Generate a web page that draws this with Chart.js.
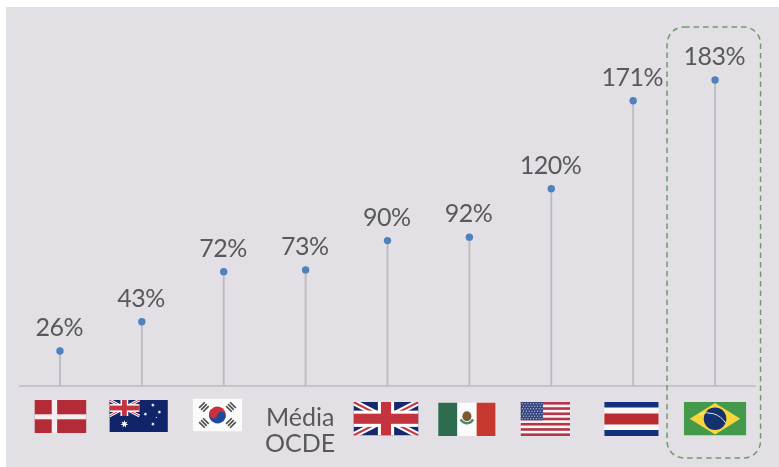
<!DOCTYPE html>
<html>
<head>
<meta charset="utf-8">
<script src="https://cdn.jsdelivr.net/npm/chart.js@4"></script>
<style>
  html, body { margin: 0; padding: 0; background: #fff; }
  #wrap { position: relative; width: 779px; height: 467px; overflow: hidden; }
  #panel { position: absolute; left: 6px; top: 7px; width: 773px; height: 460px; background: #e2e0e5; }
  canvas { position: absolute; left: 0; top: 0; }
</style>
</head>
<body>
<div id="wrap">
  <div id="panel"></div>
  <canvas id="lollipop" width="779" height="467"></canvas>
</div>
<script>
const categories = ['Dinamarca', 'Austrália', 'Coreia do Sul', 'Média OCDE', 'Reino Unido', 'México', 'Estados Unidos', 'Costa Rica', 'Brasil'];
const values = [26, 43, 72, 73, 90, 92, 120, 171, 183];
const flagKeys = ['dk', 'au', 'kr', null, 'gb', 'mx', 'us', 'cr', 'br'];
const highlighted = 'Brasil';

const TEXT = '#59585c';
const STEM = '#bcbbc0';
const DOT = '#4f81bd';
const FONT = '"Lato", "Open Sans", sans-serif';

function rect(c, col, x, y, w, h) {
    c.fillStyle = col;
    c.fillRect(x, y, w, h);
}

function star(c, x, y, r, n) {
    c.beginPath();
    for (let i = 0; i < n * 2; i++) {
        const rr = i % 2 ? r * 0.45 : r;
        const a = -Math.PI / 2 + i * Math.PI / n;
        c.lineTo(x + Math.cos(a) * rr, y + Math.sin(a) * rr);
    }
    c.closePath();
    c.fillStyle = '#fff';
    c.fill();
}

function stroke(c, col, lw, pts) {
    c.strokeStyle = col;
    c.lineWidth = lw;
    c.beginPath();
    pts.forEach(p => c.lineTo(p[0], p[1]));
    c.stroke();
}

function union(c, w, h) {
    // also used small on the australian flag
    const navy = '#15286b', red = '#c4343f';
    rect(c, navy, 0, 0, w, h);
    const s = h / 33;
    stroke(c, '#fff', 6 * s, [[0, 0], [w, h]]);
    stroke(c, '#fff', 6 * s, [[w, 0], [0, h]]);
    stroke(c, red, 2 * s, [[0, 0], [w, h]]);
    stroke(c, red, 2 * s, [[w, 0], [0, h]]);
    rect(c, '#fff', w / 2 - 8 * s, 0, 16 * s, h);
    rect(c, '#fff', 0, h / 2 - 8 * s, w, 16 * s);
    rect(c, red, w / 2 - 5 * s, 0, 10 * s, h);
    rect(c, red, 0, h / 2 - 5 * s, w, 10 * s);
}

const flags = {
    dk: { w: 52, h: 33, top: 400, dx: 0.5, draw(c, w, h) {
        rect(c, '#b42b38', 0, 0, w, h);
        rect(c, '#f4eef0', 17.3, 0, 5.4, h);
        rect(c, '#f4eef0', 0, 14.3, w, 5);
    } },
    au: { w: 58.5, h: 32, top: 400, dx: -3.2, draw(c, w, h) {
        rect(c, '#10246a', 0, 0, w, h);
        c.save();
        union(c, 30, 16);
        c.restore();
        star(c, 15, 24, 4, 7);
        star(c, 43.5, 24, 2, 7);
        star(c, 36, 14, 2, 7);
        star(c, 43.5, 5, 2, 7);
        star(c, 50, 12, 2, 7);
        star(c, 47, 17.5, 1, 5);
    } },
    kr: { w: 49.5, h: 33, top: 398.5, dx: -6.3, draw(c, w, h) {
        rect(c, '#fbfbfb', 0, 0, w, h);
        const cx = w / 2, cy = h / 2, r = 8.5;
        c.fillStyle = '#c8323f';
        c.beginPath(); c.arc(cx, cy, r, Math.PI * 1.1, Math.PI * 0.1); c.fill();
        c.fillStyle = '#1f4a9c';
        c.beginPath(); c.arc(cx, cy, r, Math.PI * 0.1, Math.PI * 1.1); c.fill();
        c.fillStyle = '#c8323f';
        c.beginPath(); c.arc(cx - 4, cy - 1, 4.3, 0, Math.PI * 2); c.fill();
        c.fillStyle = '#1f4a9c';
        c.beginPath(); c.arc(cx + 4, cy + 1, 4.3, 0, Math.PI * 2); c.fill();
        [[-13.5, -8, 1], [13.5, -8, -1], [-13.5, 8, -1], [13.5, 8, 1]].forEach(b => {
            c.save();
            c.translate(cx + b[0], cy + b[1]);
            c.rotate(b[2] * -Math.PI / 4);
            rect(c, '#4a4a4c', -4, -3.6, 8, 1.6);
            rect(c, '#4a4a4c', -4, -0.8, 8, 1.6);
            rect(c, '#4a4a4c', -4, 2, 8, 1.6);
            c.restore();
        });
    } },
    gb: { w: 65, h: 33.5, top: 402, dx: -1.5, draw(c, w, h) { union(c, w, h); } },
    mx: { w: 57.5, h: 33.5, top: 402.5, dx: -2.5, draw(c, w, h) {
        rect(c, '#fbfbfb', 0, 0, w, h);
        rect(c, '#2e6c50', 0, 0, 19, h);
        rect(c, '#c5392e', 38.5, 0, 19, h);
        c.fillStyle = '#7d5a35';
        c.beginPath(); c.ellipse(w / 2, h / 2 - 3, 4.5, 5, 0, 0, Math.PI * 2); c.fill();
        c.strokeStyle = '#4f8a63';
        c.lineWidth = 2.5;
        c.beginPath(); c.arc(w / 2, h / 2 - 3, 7, Math.PI * 0.15, Math.PI * 0.85); c.stroke();
    } },
    us: { w: 49.5, h: 34, top: 402, dx: -6, draw(c, w, h) {
        rect(c, '#fbf6f7', 0, 0, w, h);
        for (let i = 0; i < 13; i += 2) {
            rect(c, '#b63447', 0, i * h / 13, w, h / 13);
        }
        rect(c, '#33447f', 0, 0, 22.5, 18.3);
        for (let r = 0; r < 7; r++) {
            for (let k = 0; k < 8; k++) {
                rect(c, '#c9cfe2', 1.2 + k * 2.8 + (r % 2) * 1.2, 1.2 + r * 2.5, 1.1, 1.1);
            }
        }
    } },
    cr: { w: 54.5, h: 34, top: 402, dx: -1.7, draw(c, w, h) {
        rect(c, '#fbf8f9', 0, 0, w, h);
        rect(c, '#14307a', 0, 0, w, 5.5);
        rect(c, '#14307a', 0, 28, w, 6);
        rect(c, '#bb2c31', 0, 11.5, w, 11);
    } },
    br: { w: 62.5, h: 33.5, top: 402, dx: 0, draw(c, w, h) {
        rect(c, '#45994a', 0, 0, w, h);
        c.fillStyle = '#f8d53d';
        c.beginPath();
        c.moveTo(w / 2, 1); c.lineTo(w - 6, h / 2); c.lineTo(w / 2, h - 1); c.lineTo(6, h / 2);
        c.closePath();
        c.fill();
        c.fillStyle = '#14306f';
        c.beginPath(); c.arc(w / 2, h / 2, 11.3, 0, Math.PI * 2); c.fill();
        c.strokeStyle = '#e6e6ea';
        c.lineWidth = 1;
        c.beginPath(); c.arc(w / 2 - 8, h / 2 + 16, 22, -Math.PI * 0.62, -Math.PI * 0.18); c.stroke();
    } }
};

const lollipopDecor = {
    id: 'lollipopDecor',
    afterDatasetsDraw(chart) {
        const c = chart.ctx;
        const x = chart.scales.x, y = chart.scales.y;

        // baseline
        c.save();
        c.strokeStyle = STEM;
        c.lineWidth = 1.5;
        c.beginPath();
        c.moveTo(chart.chartArea.left, chart.chartArea.bottom);
        c.lineTo(chart.chartArea.right, chart.chartArea.bottom);
        c.stroke();
        c.restore();

        // value labels above each dot
        c.save();
        c.font = '25px ' + FONT;
        c.letterSpacing = '-0.5px';
        c.fillStyle = TEXT;
        c.textAlign = 'center';
        c.textBaseline = 'alphabetic';
        values.forEach((v, i) => {
            c.fillText(v + '%', x.getPixelForValue(i) - 0.8, y.getPixelForValue(v) - 15);
        });
        c.restore();

        // flags under the axis
        flagKeys.forEach((key, i) => {
            if (!key) return;
            const f = flags[key];
            c.save();
            c.translate(x.getPixelForValue(i) - f.w / 2 + f.dx, f.top);
            c.beginPath();
            c.rect(0, 0, f.w, f.h);
            c.clip();
            f.draw(c, f.w, f.h);
            c.restore();
        });

        // dashed box round the highlighted country
        const hx = x.getPixelForValue(categories.indexOf(highlighted));
        c.save();
        c.strokeStyle = '#6f9b6c';
        c.lineWidth = 1.5;
        c.setLineDash([5.5, 4]);
        c.beginPath();
        c.roundRect(hx - 48, 27, 93.5, 431, 17);
        c.stroke();
        c.restore();
    }
};

new Chart(document.getElementById('lollipop').getContext('2d'), {
    type: 'bar',
    data: {
        labels: categories,
        datasets: [
            {
                type: 'line',
                data: values,
                showLine: false,
                pointRadius: 3.7,
                pointBackgroundColor: DOT,
                pointBorderWidth: 0,
                order: 0
            },
            {
                type: 'bar',
                data: values,
                backgroundColor: STEM,
                barThickness: 1.2,
                order: 1
            }
        ]
    },
    options: {
        responsive: false,
        animation: false,
        layout: { padding: { left: 19, right: 23, top: 10, bottom: 0 } },
        plugins: { legend: { display: false }, tooltip: { enabled: false } },
        scales: {
            x: {
                grid: { display: false },
                border: { display: false },
                afterFit(scale) { scale.height = 81; },
                ticks: {
                    padding: 11,
                    labelOffset: -5.5,
                    maxRotation: 0,
                    autoSkip: false,
                    color: TEXT,
                    font: { family: FONT, size: 25, lineHeight: 1.04 },
                    callback(value, i) {
                        // the other categories are shown as flags
                        return flagKeys[i] ? '' : categories[i].split(' ');
                    }
                }
            },
            y: {
                display: false,
                min: 5.74,
                max: 223.6
            }
        }
    },
    plugins: [lollipopDecor]
});
</script>
</body>
</html>
